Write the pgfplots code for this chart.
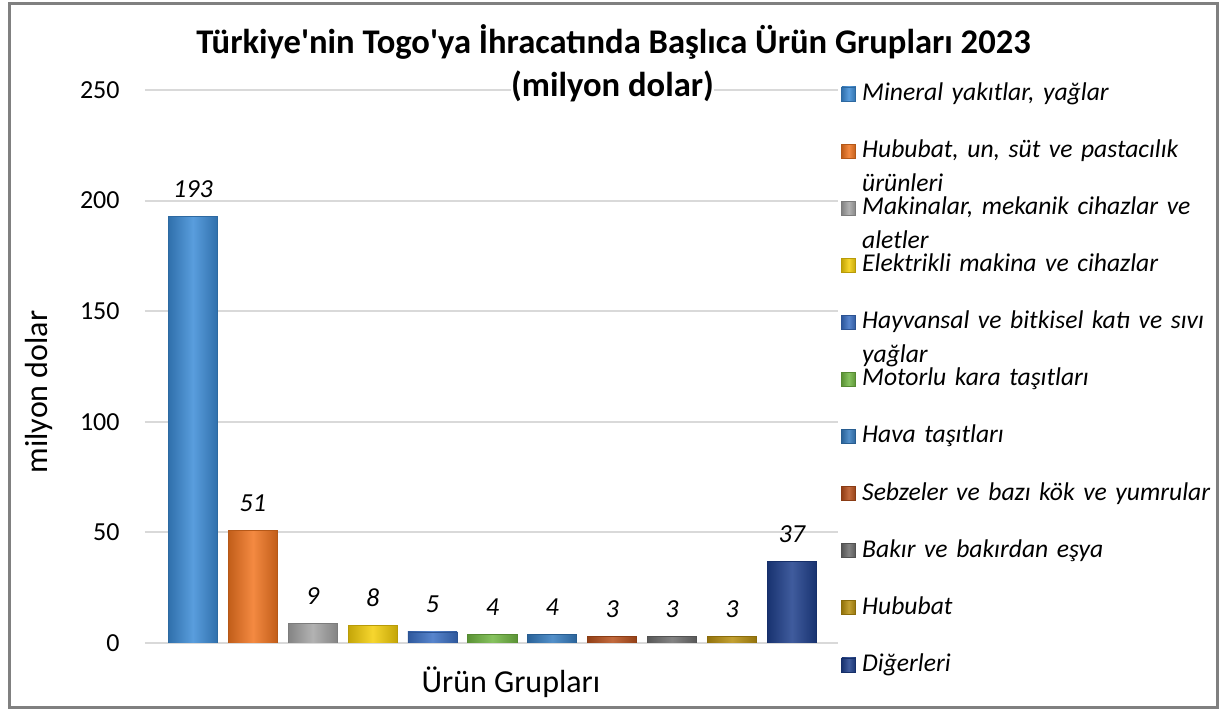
\documentclass[border=0pt]{standalone}
\usepackage{pgfplots}
\pgfplotsset{compat=1.18}
\usepackage{fontspec}
\setmainfont{Carlito}
\definecolor{c1}{HTML}{3C8CD7}
\definecolor{c2}{HTML}{F27520}
\definecolor{c3}{HTML}{A5A5A5}
\definecolor{c4}{HTML}{F5CF0A}
\definecolor{c5}{HTML}{3A6FC4}
\definecolor{c6}{HTML}{72B843}
\definecolor{c7}{HTML}{357CC0}
\definecolor{c8}{HTML}{B8501C}
\definecolor{c9}{HTML}{6E6E6E}
\definecolor{c10}{HTML}{B8900F}
\definecolor{c11}{HTML}{1E3F8C}
\definecolor{gridc}{HTML}{D9D9D9}
\pgfplotsset{
  mybar/.style={ybar, draw=#1!75!black, line width=0.4pt,
    left color=#1!80!black, right color=#1!80!black, middle color=#1!85!white},
}
\newcommand\legfont{\fontsize{12.8}{17}\selectfont\itshape\frenchspacing}
\begin{document}
\begin{tikzpicture}
\path[use as bounding box] (0,0) rectangle (611.5pt,355.5pt);
\draw[line width=1.5pt, color=black!50] (4.5pt,1.8pt) rectangle (608.8pt,353.7pt);
\begin{axis}[
  at={(72.5pt,34pt)}, anchor=south west,
  scale only axis, width=346.5pt, height=276.5pt,
  xmin=-0.8, xmax=10.77, ymin=0, ymax=250,
  ytick={0,50,100,150,200,250}, xtick=\empty,
  ymajorgrids, grid style={gridc, line width=1pt},
  axis line style={draw=none}, major tick length=0pt,
  /pgf/number format/assume math mode=true,
  tick label style={font=\fontsize{13}{15}\selectfont},
  yticklabel style={anchor=east, inner sep=0pt, xshift=-12.5pt},
  ylabel={milyon dolar},
  ylabel style={font=\fontsize{16}{18}\selectfont, at={(axis description cs:-0.1537,0.454)}, anchor=center, rotate=0},
  xlabel={Ürün Grupları},
  xlabel style={font=\fontsize{16}{18}\selectfont, at={(axis description cs:0.528,-0.071)}, anchor=center},
  bar width=0.82, bar shift=0pt,
  nodes near coords,
  every node near coord/.append style={font=\fontsize{13}{15}\selectfont\itshape, anchor=base, yshift=9.5pt},
  legend image code/.code={\fill[#1] (0pt,-0.3pt) rectangle (7pt,6.7pt);},
  legend cell align=left,
  legend style={draw=none, fill=none, at={(axis description cs:1.0043,1.0145)}, anchor=north west,
    inner sep=0pt, row sep=0pt, column sep=0pt,
    cells={anchor=base west},
    nodes={font=\legfont, text width=190pt, text height=9pt, text depth=19.55pt, inner ysep=0pt, inner xsep=3pt, align=left}},
]
\addplot[mybar=c1] coordinates {(0,193)};
\addlegendentry{Mineral yakıtlar, yağlar}
\addplot[mybar=c2] coordinates {(1,51)};
\addlegendentry{Hububat, un, süt ve pastacılık\\ürünleri}
\addplot[mybar=c3] coordinates {(2,9)};
\addlegendentry{Makinalar, mekanik cihazlar ve\\aletler}
\addplot[mybar=c4] coordinates {(3,8)};
\addlegendentry{Elektrikli makina ve cihazlar}
\addplot[mybar=c5] coordinates {(4,5)};
\addlegendentry{Hayvansal ve bitkisel katı ve sıvı\\yağlar}
\addplot[mybar=c6] coordinates {(5,4)};
\addlegendentry{Motorlu kara taşıtları}
\addplot[mybar=c7] coordinates {(6,4)};
\addlegendentry{Hava taşıtları}
\addplot[mybar=c8] coordinates {(7,3)};
\addlegendentry{Sebzeler ve bazı kök ve yumrular}
\addplot[mybar=c9] coordinates {(8,3)};
\addlegendentry{Bakır ve bakırdan eşya}
\addplot[mybar=c10] coordinates {(9,3)};
\addlegendentry{Hububat}
\addplot[mybar=c11] coordinates {(10,37)};
\addlegendentry{Diğerleri}
\end{axis}
\node[font=\fontsize{17.3}{21.5}\selectfont\bfseries, anchor=base] at (306.75pt,328.5pt)
  {Türkiye\textquotesingle nin Togo\textquotesingle ya İhracatında Başlıca Ürün Grupları 2023};
\node[font=\fontsize{17.3}{21.5}\selectfont\bfseries, anchor=base, fill=white, inner xsep=0pt, inner ysep=0.5pt] at (306.25pt,307pt)
  {(milyon dolar)};
\end{tikzpicture}
\end{document}
